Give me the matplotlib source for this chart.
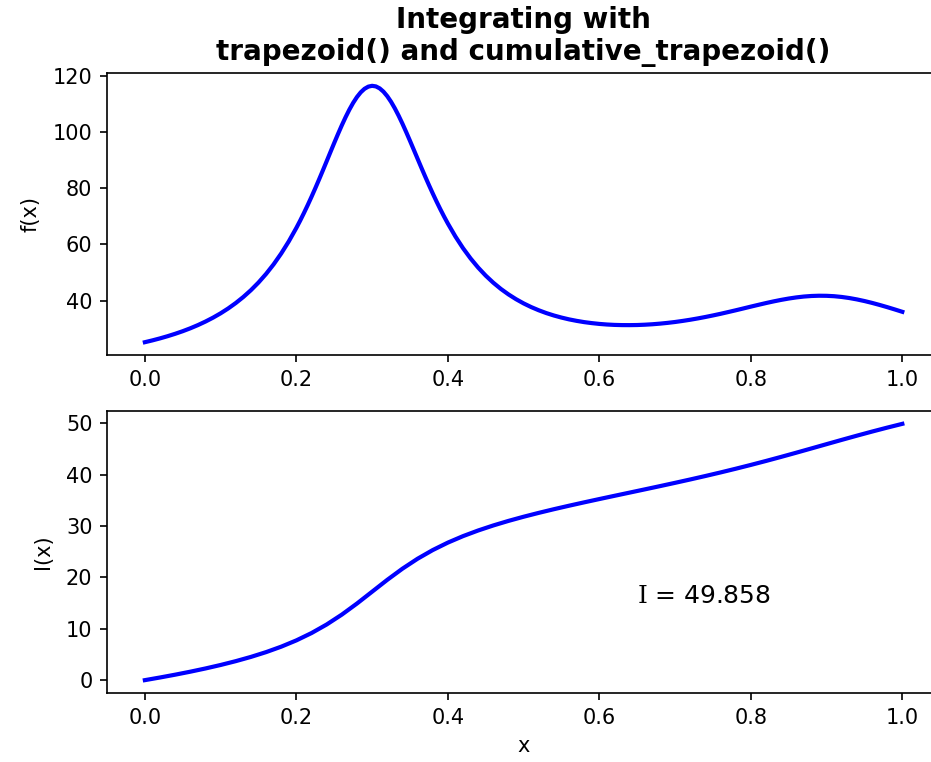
import numpy as np
import matplotlib
matplotlib.use("Agg")
import matplotlib.pyplot as plt

# f(x), in three pieces (finer steps around the peak)
x_left = np.linspace(0.0, 0.19, 20)      # step 0.01
f_left = [
    25.18, 25.83, 26.54, 27.32, 28.17, 29.10, 30.13, 31.27, 32.53, 33.92,
    35.47, 37.20, 39.13, 41.29, 43.71, 46.43, 49.49, 52.92, 56.78, 61.09,
]
x_peak = np.linspace(0.20, 0.40, 41)     # step 0.005
f_peak = [
    65.89, 68.47, 71.19, 74.02, 76.97, 80.02, 83.16, 86.37, 89.63, 92.91,
    96.16, 99.35, 102.43, 105.34, 108.03, 110.44, 112.51, 114.19, 115.44, 116.21,
    116.50, 116.29, 115.59, 114.42, 112.81, 110.82, 108.48, 105.87, 103.04, 100.03,
    96.92, 93.74, 90.55, 87.36, 84.23, 81.17, 78.20, 75.33, 72.58, 69.95,
    67.45,
]
x_right = np.linspace(0.41, 1.0, 60)     # step 0.01
f_right = [
    62.82, 58.68, 55.01, 51.76, 48.89, 46.37, 44.15, 42.21, 40.50,
    39.00, 37.69, 36.55, 35.55, 34.69, 33.95, 33.31, 32.78, 32.33, 31.98,
    31.69, 31.48, 31.34, 31.27, 31.26, 31.30, 31.41, 31.57, 31.79, 32.06,
    32.38, 32.76, 33.18, 33.65, 34.16, 34.71, 35.29, 35.91, 36.54, 37.19,
    37.85, 38.49, 39.12, 39.71, 40.25, 40.73, 41.13, 41.44, 41.64, 41.73,
    41.70, 41.56, 41.29, 40.91, 40.42, 39.84, 39.18, 38.45, 37.67, 36.85,
    36.00,
]

# I(x), x = 0.00 ... 1.00 in steps of 0.02
x_i = np.linspace(0.0, 1.0, 51)
i_vals = [
    0.0, 0.517, 1.063, 1.646, 2.271, 2.950, 3.695, 4.521, 5.451, 6.511,
    7.734, 9.160, 10.824, 12.746, 14.903, 17.206, 19.511, 21.677, 23.615, 25.300,
    26.754, 28.012, 29.113, 30.092, 30.976, 31.787, 32.541, 33.253, 33.932, 34.588,
    35.228, 35.858, 36.483, 37.110, 37.741, 38.383, 39.038, 39.711, 40.405, 41.124,
    41.868, 42.637, 43.431, 44.245, 45.074, 45.908, 46.739, 47.557, 48.353, 49.122,
    49.859,
]
total_label = "49.858"


def main():
    fig = plt.figure(figsize=(932 / 150, 762 / 150), dpi=150)

    # right edge of both axes runs past the image edge, like the reference crop
    ax1 = fig.add_axes([0.1148, 0.5341, 0.894, 0.3701])
    ax2 = fig.add_axes([0.1148, 0.0906, 0.894, 0.3700])

    x_f = np.concatenate([x_left, x_peak, x_right])
    f_vals = f_left + f_peak + f_right
    ax1.plot(x_f, f_vals, color="blue", lw=2)
    ax1.set_ylabel("f(x)", labelpad=6)
    ax1.set_title("Integrating with\ntrapezoid() and cumulative_trapezoid()",
                  fontweight="bold", fontsize=13.3)

    ax2.plot(x_i, i_vals, color="blue", lw=2)
    ax2.set_ylabel("I(x)", labelpad=6)
    ax2.set_xlabel("x")
    ax2.text(0.65, 15, r"$\mathrm{I}$ = " + total_label, fontsize=12,
             math_fontfamily="dejavuserif")

    fig.savefig("out.png", dpi=150)


if __name__ == "__main__":
    main()
